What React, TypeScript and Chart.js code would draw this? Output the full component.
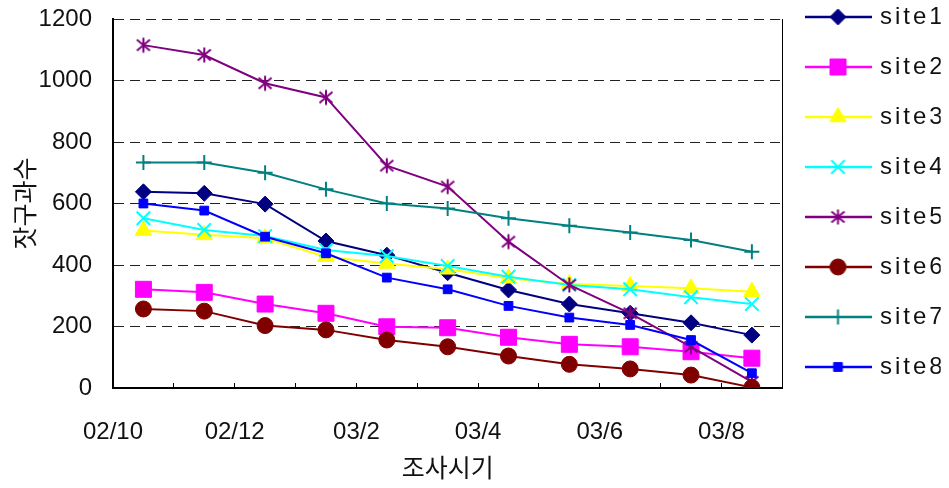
import React, { useEffect, useRef } from 'react';
import { Chart, registerables } from 'chart.js';
import { drawPoint } from 'chart.js/helpers';

Chart.register(...registerables);

// ---- data ----
const monthLabels = ['02/10', '02/11', '02/12', '03/1', '03/2', '03/3', '03/4', '03/5', '03/6', '03/7', '03/8', '03/9'];
const seriesNames = ['site1', 'site2', 'site3', 'site4', 'site5', 'site6', 'site7', 'site8'];
const site1 = [638, 633, 598, 478, 432, 375, 319, 273, 243, 212, 172];
const site2 = [321, 311, 273, 243, 199, 196, 165, 142, 134, 118, 97];
const site3 = [512, 498, 487, 427, 405, 386, 357, 338, 332, 324, 313];
const site4 = [552, 514, 494, 449, 429, 397, 362, 335, 321, 295, 273];
const site5 = [1115, 1083, 991, 945, 723, 655, 476, 335, 243, 134, 20];
const site6 = [257, 250, 203, 189, 156, 134, 104, 77, 62, 42, 2];
const site7 = [733, 733, 700, 646, 600, 584, 552, 528, 506, 481, 443];
const site8 = [600, 577, 492, 438, 359, 321, 267, 229, 205, 156, 48];
const yMin = 0;
const yMax = 1200;
const yStep = 200;
const yTitle = '잣구과수';
const xTitle = '조사시기';

// ---- styles ----
const seriesValues = [site1, site2, site3, site4, site5, site6, site7, site8];
const colors = ['#000080', '#FF00FF', '#FFFF00', '#00FFFF', '#800080', '#800000', '#008080', '#0000FF'];
const markerKinds = ['rectRot', 'rect', 'triangle', 'crossRot', 'star6', 'circle', 'cross', 'rect'];
const markerRadius = [8, 11.3, 9.5, 9.5, 8, 8, 7.5, 6.2];
const markerBorder = [1, 1, 1, 2, 2, 1, 2, 1];

function makeStar(color: string) {
  const c = document.createElement('canvas');
  c.width = 18;
  c.height = 18;
  const g = c.getContext('2d')!;
  g.strokeStyle = color;
  g.lineWidth = 2;
  g.beginPath();
  g.moveTo(9, 1.5);
  g.lineTo(9, 16.5);
  g.moveTo(2.5, 3.5);
  g.lineTo(15.5, 14.5);
  g.moveTo(15.5, 3.5);
  g.lineTo(2.5, 14.5);
  g.stroke();
  return c;
}

function makeLegendIcon(color: string, style: any, radius: number, bw: number) {
  const c = document.createElement('canvas');
  c.width = 67;
  c.height = 24;
  const g = c.getContext('2d')!;
  g.strokeStyle = color;
  g.lineWidth = 2.5;
  g.beginPath();
  g.moveTo(0, 12);
  g.lineTo(67, 12);
  g.stroke();
  if (style instanceof HTMLCanvasElement) {
    g.drawImage(style, 33.5 - style.width / 2, 12 - style.height / 2);
  } else {
    g.fillStyle = color;
    g.strokeStyle = color;
    g.lineWidth = bw;
    drawPoint(g, { pointStyle: style, radius, rotation: 0, borderWidth: bw } as any, 33.5, 12);
  }
  return c;
}

const tickFont = { family: "'Liberation Sans', Arial, sans-serif", size: 24 };
const titleFont = { family: "'Noto Sans CJK KR', sans-serif", size: 25 };
const textColor = '#111';

export default function App() {
  const canvasRef = useRef<HTMLCanvasElement | null>(null);

  useEffect(() => {
    const canvas = canvasRef.current;
    if (!canvas) return;

    const pointStyles = markerKinds.map((k, i) => (k === 'star6' ? makeStar(colors[i]) : k));
    const legendIcons = pointStyles.map((s, i) => makeLegendIcon(colors[i], s, markerRadius[i], markerBorder[i]));

    const datasets = seriesValues.map((vals, i) => ({
      label: seriesNames[i],
      data: vals.map((v, j) => ({ x: j + 0.5, y: v })),
      borderColor: colors[i],
      backgroundColor: colors[i],
      borderWidth: 2,
      pointStyle: pointStyles[i] as any,
      pointRadius: markerRadius[i],
      pointBorderWidth: markerBorder[i],
      pointBackgroundColor: colors[i],
      pointBorderColor: colors[i],
      tension: 0,
      order: seriesNames.length - i,
    }));

    const layoutPlugin = {
      id: 'layoutTweaks',
      afterInit(chart: any) {
        const lg = chart.legend;
        if (lg && !lg.__wrapped) {
          const orig = lg.draw.bind(lg);
          lg.draw = (...args: any[]) => {
            const ctx: any = chart.ctx;
            const prev = ctx.letterSpacing;
            ctx.letterSpacing = '3px';
            orig(...args);
            ctx.letterSpacing = prev || '0px';
          };
          lg.__wrapped = true;
        }
      },
      afterLayout(chart: any) {
        const lg = chart.legend;
        if (lg) {
          const h = lg.bottom - lg.top;
          const w = lg.right - lg.left;
          lg.top = -21;
          lg.bottom = lg.top + h;
          lg.left = 782;
          lg.right = lg.left + w;
        }
      },
    };

    const chart = new Chart(canvas, {
      type: 'line',
      data: { datasets: datasets as any },
      options: {
        animation: false,
        responsive: false,
        layout: { padding: { top: 19, left: 0, right: 0, bottom: 0 } },
        scales: {
          x: {
            type: 'linear',
            min: 0,
            max: monthLabels.length - 1,
            afterFit: (s: any) => {
              s.height = 100;
              s.paddingLeft = 0;
              s.paddingRight = 0;
            },
            ticks: {
              stepSize: 1,
              autoSkip: false,
              maxRotation: 0,
              padding: 35,
              color: textColor,
              font: tickFont,
              callback: (v: any) => {
                const n = Number(v);
                return n % 2 === 0 && n < monthLabels.length - 1 ? monthLabels[n] : '';
              },
            },
            grid: {
              drawOnChartArea: false,
              drawTicks: true,
              tickLength: -5,
              color: '#000',
              lineWidth: 1,
            },
            border: { display: true, color: '#000', width: 2 },
            title: {
              display: true,
              text: xTitle,
              color: textColor,
              font: titleFont,
              padding: { top: 0, bottom: 6 },
            },
          },
          y: {
            min: yMin,
            max: yMax,
            afterFit: (s: any) => {
              s.width = 113;
              s.paddingTop = 0;
              s.paddingBottom = 0;
            },
            ticks: {
              stepSize: yStep,
              padding: 21,
              color: textColor,
              font: tickFont,
              callback: (v: any) => String(v),
            },
            grid: {
              drawTicks: false,
              color: '#222',
              lineWidth: 1,
            },
            border: { display: true, color: '#000', width: 2, dash: [10, 6] },
            title: {
              display: true,
              text: yTitle,
              color: textColor,
              font: titleFont,
              padding: { top: 9, bottom: 0 },
            },
          },
          y2: {
            position: 'right',
            min: yMin,
            max: yMax,
            afterFit: (s: any) => {
              s.width = 8;
              s.paddingTop = 0;
              s.paddingBottom = 0;
            },
            ticks: { display: false },
            grid: { drawOnChartArea: false, drawTicks: false },
            border: { display: true, color: '#000', width: 1 },
          },
        },
        plugins: {
          tooltip: { enabled: false },
          legend: {
            position: 'right',
            align: 'start',
            maxWidth: 164,
            labels: {
              usePointStyle: true,
              pointStyleWidth: 60,
              boxHeight: 24,
              padding: 26,
              color: textColor,
              font: { family: "'Liberation Sans', Arial, sans-serif", size: 24 },
              generateLabels: () =>
                seriesNames.map((name, i) => ({
                  text: name,
                  fillStyle: colors[i],
                  strokeStyle: colors[i],
                  lineWidth: 0,
                  pointStyle: legendIcons[i] as any,
                  hidden: false,
                  datasetIndex: i,
                  fontColor: textColor,
                })),
            },
          },
        },
      },
      plugins: [layoutPlugin],
    });

    return () => {
      chart.destroy();
    };
  }, []);

  return (
    <div style={{ position: 'fixed', left: 0, top: 0, width: 949, height: 488, background: '#fff' }}>
      <canvas ref={canvasRef} width={949} height={488} style={{ width: 949, height: 488, display: 'block' }} />
    </div>
  );
}
